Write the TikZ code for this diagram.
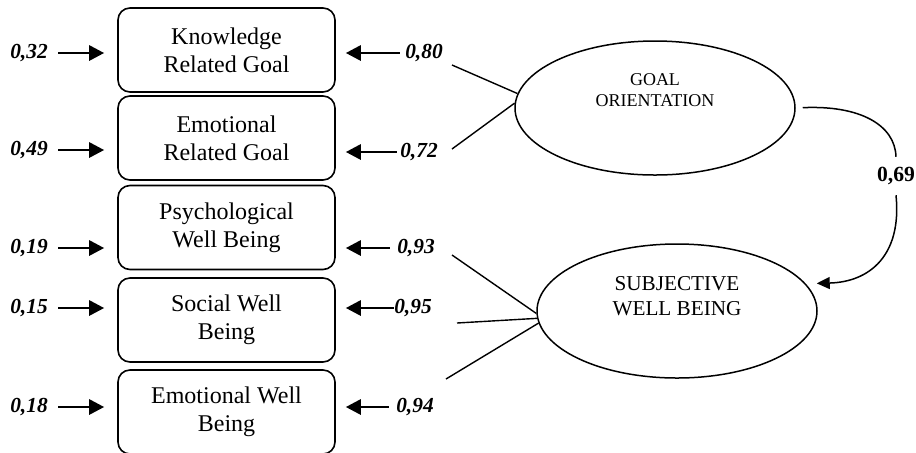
\documentclass[tikz,border=0pt]{standalone}
\usepackage{fontspec}
\setmainfont{Liberation Serif}
\usetikzlibrary{shapes.geometric, arrows.meta, calc}

\tikzset{
  obsbox/.style={draw, rounded corners=6pt, line width=0.8pt, minimum width=108.5pt,
    minimum height=42pt, inner sep=0pt, align=center, font=\fontsize{12}{14}\selectfont},
  latent/.style={draw, ellipse, line width=0.75pt, minimum width=140pt,
    minimum height=67pt, inner sep=0pt},
  errlbl/.style={inner sep=0pt, font=\fontsize{10.7}{12}\selectfont\bfseries\itshape},
  errarrow/.style={line width=1.4pt, -{Triangle[length=7.5pt,width=7.5pt]}},
  loadline/.style={line width=0.7pt},
}

\begin{document}
\begin{tikzpicture}[x=0.5pt, y=-0.5pt]
    % Canvas (pixel grid of the figure)
    \useasboundingbox (0,0) rectangle (916,452);

    % Observed indicators
    \node[obsbox] (b1) at (226.5,50)  {Knowledge\\Related Goal};
    \node[obsbox] (b2) at (226.5,138) {Emotional\\Related Goal};
    \node[obsbox] (b3) at (226.5,227.5) {Psychological\\Well Being};
    \node[obsbox] (b4) at (226.5,320) {Social Well\\Being};
    \node[obsbox] (b5) at (226.5,412) {Emotional Well\\Being};

    % Latent variables
    \node[latent] (go)  at (655,108) {};
    \node[align=center, font=\fontsize{9}{10.5}\selectfont] (golbl) at (655,90.5) {GOAL\\ORIENTATION};
    \node[latent] (swb) at (677,311) {};
    \node[align=center, font=\fontsize{10.6}{12.5}\selectfont] (swblbl) at (677,296) {SUBJECTIVE\\WELL BEING};

    % Left error terms
    \node[errlbl] (l1) at (29,53)  {0,32};
    \node[errlbl] (l2) at (29,150) {0,49};
    \node[errlbl] (l3) at (29,248) {0,19};
    \node[errlbl] (l4) at (29,308) {0,15};
    \node[errlbl] (l5) at (29,407) {0,18};
    \foreach \i in {1,...,5}
        \draw[errarrow, shorten <=5pt, shorten >=6.5pt] (l\i.east) -- (l\i.east -| b\i.west);

    % Right loadings
    \node[errlbl] (r1) at (424,53)  {0,80};
    \node[errlbl] (r2) at (419,152) {0,72};
    \node[errlbl] (r3) at (416,248) {0,93};
    \node[errlbl] (r4) at (413,308) {0,95};
    \node[errlbl] (r5) at (415,407) {0,94};
    \foreach \i/\s in {1/2.5pt,2/1.5pt,3/3.5pt,4/0pt,5/3.5pt}
        \draw[errarrow, shorten <=\s, shorten >=5pt] (r\i.west) -- (r\i.west -| b\i.east);

    % Loading lines to the latents
    \coordinate (g1) at (452,65);
    \coordinate (g2) at (452,149);
    \coordinate (s1) at (452,255);
    \coordinate (s2) at (457,323);
    \coordinate (s3) at (446,379);
    \draw[loadline] (g1) -- (go.174);
    \draw[loadline] (g2) -- (go.178);
    \draw[loadline] (s1) -- (swb.181);
    \draw[loadline] (s2) -- (swb.183);
    \draw[loadline] (s3) -- (swb.185);

    % Structural path
    \node[inner sep=5pt, font=\fontsize{10.8}{12}\selectfont\bfseries] (w69) at (896,176) {0,69};
    \draw[line width=0.75pt, shorten <=3.5pt] (go.east) .. controls (860,105) and (895,125) .. (w69.north);
    \draw[line width=0.75pt, shorten >=5.5pt, -{Triangle[length=6.5pt,width=6pt]}]
        (w69.south) .. controls (902,255) and (870,282) .. (swb.12);
\end{tikzpicture}
\end{document}
